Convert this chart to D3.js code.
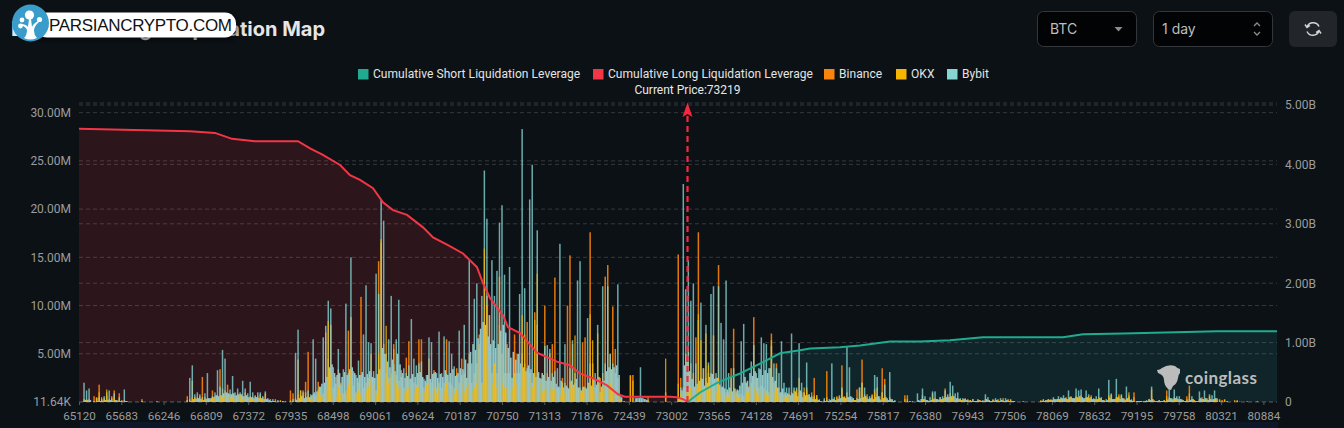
<!DOCTYPE html>
<html><head><meta charset="utf-8">
<script src="https://cdn.jsdelivr.net/npm/d3@7"></script>
<style>html,body{margin:0;padding:0;background:#0c1116;overflow:hidden}svg{display:block}</style>
</head><body><svg id="c" width="1344" height="428"></svg>
<script>
const priceTicks=[65120,65683,66246,66809,67372,67935,68498,69061,69624,70187,70750,71313,71876,72439,73002,73565,74128,74691,75254,75817,76380,76943,77506,78069,78632,79195,79758,80321,80884];
const leftTicks=[0,5,10,15,20,25,30];
const leftLabels=["11.64K","5.00M","10.00M","15.00M","20.00M","25.00M","30.00M"];
const rightTicks=[0,1,2,3,4,5];
const rightLabels=["0","1.00B","2.00B","3.00B","4.00B","5.00B"];
const currentPrice=73219;
const legendNames=["Cumulative Short Liquidation Leverage","Cumulative Long Liquidation Leverage","Binance","OKX","Bybit"];

// liquidation per price bin (millions), one row per 17 bins
const binance=[
[0,0,.3,.2,.3,0,.6,.5,1.8,.3,.4,.6,.3,.6,1.2,.2,.9],
[.2,.2,.1,0,0,0,0,0,.1,0,0,0,0,0,.05,0,0],
[0,0,0,0,0,0,0,0,0,.6,.3,2.2,.5,.4,.6,2.6,.5],
[.4,.3,1.2,.6,.7,3.4,1.4,1.2,1.8,.8,.9,.6,.7,.8,.6,1,.5],
[.6,.5,.7,.6,.8,.5,.9,.3,.1,.1,0,.1,.05,.1,0,0,1.2],
[.9,.3,4.4,.7,1.2,2.1,5.2,.5,.8,.7,2.1,1.5,.9,7.2,4.5,8,1.5],
[2.6,3.4,2,.9,.8,7.4,8.8,1.7,1,2,10.9,1.5,2,2.5,5,2.5,1.2],
[14.6,16.5,6,3,2.5,2.5,6,2.8,2.2,3.3,1.5,4.6,6.3,2.5,2,1.8,6.5],
[6.5,1.5,2,4.5,2,3.3,1.5,2,1.5,2,6.5,2.1,1.8,1.5,3.5,2,4.5],
[3,2.5,5,2,3,4,7,2,8,11,9,3,4,3,13,5,3],
[6,3,2.5,7,5,3,5,4,8.3,3,2,9.3,8,2.5,3,10,3],
[5,6,12.9,1.5,1.5,2.5,2,10,15.2,6,2,1.5,1.5,6.2,6.7,1.5,17.6],
[4,1.5,2,2.5,3,13,14.2,5,9.9,5.5,2.5,.3,0,0,0,2.8,2.8],
[0,0,0,0,0,.5,0,0,0,0,0,0,1,0,0,0,0],
[15.3,2.5,1.5,5,5.5,4,3,6.7,17.6,2.5,3.5,2.5,3,3,6.9,2.5,14.2],
[1.5,1.5,1,1,3.5,7.6,1.2,.8,.8,.6,2,1.6,2,8.8,2.5,1.5,1.7],
[1.5,1.2,1,7.1,2,4,1.5,1,.8,.7,.8,1,.7,.9,2.5,1,1],
[1.5,.8,.5,2.5,.7,.3,.1,.2,3.2,.1,.3,.3,.5,.7,3.8,.6,1],
[.5,.3,.2,1.3,1.5,4.4,.8,.5,.3,.8,1.3,1.5,.6,3.5,2.4,.4,.5],
[.2,.1,0,0,0,.7,.7,.1,0,0,0,.1,.7,.3,.2,.1,.9],
[.4,.3,.5,.3,1.4,.6,.9,.5,.2,.4,.3,.2,.4,.3,.2,.3,.1],
[.1,.2,.1,.3,.2,.1,.3,.2,.2,.1,.4,.1,.3,.1,.1,0,0],
[0,.05,0,0,0,0,0,0,.1,.2,.1,.3,.2,.3,.2,.3,.4],
[.2,.4,.2,.6,.3,.5,.3,.4,.2,.5,.4,.7,.3,.2,.4,.3,.2],
[.1,.5,.7,.3,.4,.8,.6,.4,.3,.7,.2,1,.1,.1,.1,.1,.1],
[.3,1.3,.2,.1,.2,.1,.1,1.2,.4,.2,.5,.4,.2,.3,.1,.6,1.7],
[.3,.2,.1,.3,.5,.2,.4,.6,.2,.3,.4,.3,.2,.3,.1,0,0],
[0,.2,.05,0,0,.05,0,0,0,.05,0,0,0,0,0,0,0]];

const okx=[
[0,0,.1,.3,0,0,.1,.4,1,.5,.2,1.3,.2,.4,.5,.1,.3],
[.1,.1,0,0,0,0,0,0,.3,0,0,0,0,0,.05,0,0],
[0,0,0,0,0,0,0,0,0,.2,.2,.5,.4,.5,.3,.4,.3],
[.3,.2,.5,.4,.3,.6,.5,.6,.7,.4,.5,.3,.9,.6,.3,.4,.3],
[.4,.3,.3,.4,.5,.3,.4,.1,.05,.05,.3,.05,.2,.05,0,0,.2],
[.1,.4,.8,1.2,.7,.5,.6,.3,.4,.5,1.3,.7,.6,1,8.4,3,.8],
[.6,1.6,.9,.8,1.2,1.8,3.4,.8,.9,1.2,.9,.7,1.3,1.6,2.3,1.9,.8],
[5,16.9,2.4,7.9,2,3,5.5,2,1.4,1.5,1,1.2,1.5,1.6,1,1.5,1.6],
[1,1.1,1.7,2,1.1,1.5,.9,1.5,.8,1.3,2,.7,1.4,.8,1.3,.9,2],
[1,1.5,2,1.2,1.5,2,6,2,15.9,10,3.5,2,4,1.5,8,2,1.5],
[1.5,1.2,1.5,3,2,1.5,9,7,3,2.5,1.5,8.5,13.3,2,1,1.3,1.5],
[1.5,1.2,1.4,1,.8,1.8,1,1.5,2,1.5,6.9,1.5,1,1.2,1.5,2,9.1],
[6.4,1,7.1,1,1.5,1.5,2,2,1.5,1,.8,.2,0,0,0,2.7,2.2],
[0,0,0,0,0,.2,0,0,0,0,0,0,4.5,0,0,0,0],
[1.9,.8,.5,1.3,1,1.5,1,1.5,9.1,6.4,1.5,7.1,3.8,1.5,1.5,1,2.5],
[1,.8,.6,.5,1.2,1.5,.6,.4,.5,.4,1,1,1.5,1.6,1,.7,1.1],
[1,.8,.7,6.4,1,1.5,.6,.6,.4,.5,.8,.7,1.2,1.3,1,.8,1.5],
[1.2,.6,1,.7,.7,.2,0,.1,.5,.1,.2,.1,.6,.6,1.3,.5,.5],
[.3,.2,.2,.3,1,2,.5,.8,.4,.7,1,.8,.3,1,.7,.2,.2],
[.1,.1,0,0,0,.3,.3,.05,0,0,.1,.1,.3,.2,.1,.1,.4],
[.2,.2,.3,.2,.6,.5,.4,.7,.2,.2,.3,.2,.3,.2,.2,.1,.1],
[.2,.1,.1,.2,.1,.1,.2,.1,.3,.1,.2,.1,.2,.2,.1,0,0],
[0,.05,0,0,0,0,0,0,.2,.1,.2,.2,.3,.2,.1,.2,.3],
[.3,.5,.3,.5,.4,.6,.4,.7,.3,.4,.6,.5,.4,.3,.5,.4,.2],
[.1,.7,.9,.3,.5,.6,.7,.3,.3,1,.3,.5,.1,.1,.1,.1,.1],
[.2,.6,.1,.1,.1,.1,.2,.6,.5,.2,.3,.2,.1,.2,.1,.3,.9],
[.2,.2,.1,.2,.3,.1,.3,.4,.1,.2,.3,.2,.1,.2,.1,0,0],
[.2,.1,0,0,0,0,0,0,0,0,0,0,0,0,0,0,0]];

const bybit=[
[0,0,2,1.2,1.4,0,.1,.4,.5,.2,.6,1,1.2,.3,.9,.2,.5],
[.1,1.3,.1,0,0,0,0,0,.1,0,0,0,0,0,.05,0,0],
[0,0,0,0,0,0,0,0,0,.2,2.5,3.8,.8,1,.8,.5,.9],
[3,.4,.6,1,3.3,1.6,5.4,4.5,.9,1.3,2.7,1,1.4,1,2.2,1.4,.9],
[2.1,1,.6,1,1,.6,1.1,.4,.3,.3,.1,.2,.1,.1,.1,0,.1],
[.3,5.1,7.5,1.2,1,1,1.2,.8,6.5,4.5,1,1.6,6.7,7.9,10.5,9.7,3.6],
[1.9,5.5,1.8,3.4,10.2,3,15,3.2,2.8,4.3,2.8,7,12.1,6.2,6.1,3.2,13.3],
[11.2,21,18.8,5,6.5,11,3.9,6.5,10.6,2.6,3.5,3,3.8,8.6,4.5,3.8,4],
[4.2,2.4,2.8,6.7,6.2,3,3,7.3,3,6.8,2.9,6.3,5,3.7,2.8,7.4,2.8],
[8,2.5,14.7,4,10.7,12.3,5.5,11,24,19,9,14.7,11,13.6,18.6,20.4,13.2],
[3,14,2.5,3,3,11.2,28.3,11.8,3.5,21,24.6,3,17.8,2.5,3,5.8,5.9],
[5.5,3,3.2,3.5,16.4,2,6,1.5,3.5,6.4,3,12.6,14.6,1.5,1.5,8.7,4],
[1.5,3,8,1,12,4,12,5,4,3,12.2,.6,0,0,0,0,0],
[.4,.4,3.6,.4,.3,.1,0,0,0,0,0,0,0,0,0,0,0],
[.3,1.5,22.6,11.7,14.7,10.5,12.3,4,8.5,10.3,3.5,8,4.1,11.2,12,3,12],
[8.2,6.5,12.6,3,2.5,3.5,1,1.2,6.3,8.1,2,1.5,4.2,5.9,3,3.5,6.7],
[6.1,6,3.5,5.8,4,3.5,3,6.3,2,1.5,1.5,7.1,1.5,1.5,6.1,2,1],
[4.1,.8,.6,.5,.4,.2,0,.4,.2,.3,4,.5,.2,.4,1.5,.5,5.7],
[3.6,.5,.2,.4,1.5,2,1.5,.3,.6,.5,2.8,2.6,.3,1,1.8,.3,3.1],
[.3,.2,0,0,0,0,.1,.1,.1,0,.9,.1,1.4,.6,.2,.5,1.1],
[1.1,.3,.5,.6,1.2,.8,2.1,1.7,.9,1,.4,.4,.3,.2,.2,.3,.1],
[.3,.1,.2,.8,.5,.1,.2,.4,.1,.4,.1,.4,.1,.3,.1,0,0],
[0,.05,0,0,0,0,0,0,.1,.3,.2,.3,.2,.5,.3,.6,.5],
[.7,.3,1.2,.5,.4,1.4,1.2,1.3,.4,1.2,.8,.5,.3,.6,1.4,.5,.2],
[.3,2.3,.8,.3,2.4,.4,.8,.3,1.6,.5,.2,.1,.1,.1,.1,.1,.2],
[.3,1.6,.1,.1,.2,.1,.2,.3,2,.4,1.3,.6,.6,.2,.1,.2,.3],
[.6,.1,.1,1.1,.3,1.2,.2,.8,.7,1.2,.1,0,0,0,0,0,0],
[0,.05,0,0,0,.05,0,0,0,.05,0,0,0,0,0,0,0]];

// the solid low body of Bybit between the spikes, same rows, half a bin along
const bybitBody=[
[0,0,.2,.2,.2,0,0,.1,.1,.1,.2,.2,.2,.1,.2,.1,.1],
[0,.1,0,0,0,0,0,0,0,0,0,0,0,0,0,0,0],
[0,0,0,0,0,0,0,0,0,0,.1,.3,.3,.4,.3,.2,.3],
[.4,.4,.5,.7,.6,.7,.9,1,.9,.8,.9,.7,.8,.8,.6,.7,.5],
[.5,.4,.5,.4,.4,.3,.3,.2,.1,.1,0,0,0,0,0,0,0],
[0,.2,.4,.6,.4,.5,.5,.7,1,1.1,1.6,1.9,2,2.6,3.6,3.9,3],
[2.8,3,2.6,3.1,2.8,3.4,3.6,3,2.5,2.8,3.1,2.6,2.9,3.2,2.6,2.5,2.9],
[3.4,5.6,5,4.2,3.6,4.4,3.2,5,3.9,3,2.5,2.7,2.4,2.9,2.6,3,3.1],
[2.6,2.2,2.8,2.4,2.9,3.1,2.5,2.9,2.6,3.3,2.8,3,3.4,2.7,3,3.5,3.4],
[4.4,4,5.2,6,5.4,6.6,7.6,8.3,8,6.8,6,6.4,5.6,6,7.4,8,7.2],
[5.6,4.6,5.2,4.4,5,4,3.6,3.2,3.8,3.4,3,2.6,3.1,2.4,2.8,2.2,2.6],
[2.2,2.6,1.9,1.6,2.2,1.5,1.7,1.4,2.2,1.8,2.4,1.5,1.2,1.6,1.4,2,1.7],
[2.4,1.8,2.6,1.6,2.2,3.2,3.6,3.4,3.6,3.8,2.8,.5,.1,0,0,0,0],
[.4,.4,.4,.3,.2,0,0,0,0,0,0,0,0,0,0,0,0],
[.5,1.2,3.8,4.2,3.2,2.4,1.6,1.9,2.2,2.4,1.7,2,2.6,2.9,2.4,2.5,1.8],
[1.6,1.4,1.3,1.5,1.1,1.4,1.3,1.7,2,2.6,2.2,3,2.7,3.2,2.5,3.4,2.8],
[3.3,3,3.5,2.6,2.2,1.5,1,1.4,1,.9,.7,.9,1.1,.6,1.2,.5,.7],
[.7,.5,.3,.3,.2,.1,0,.1,.1,.2,.3,.2,.3,.4,.5,.4,.5],
[.6,.4,.2,.3,.4,.5,.6,.3,.4,.3,.5,.6,.2,.4,.5,.2,.3],
[.1,0,0,0,0,0,0,0,0,0,.2,.3,.3,.2,.1,.2,.3],
[.3,.2,.3,.4,.5,.5,.6,.6,.4,.3,.2,.3,.2,.1,.1,.1,.1],
[.2,.1,.1,.3,.2,.1,.1,.2,.1,.2,.1,.2,.1,.1,.1,0,0],
[0,0,0,0,0,0,0,0,.1,.1,.2,.2,.2,.3,.3,.3,.4],
[.4,.3,.5,.4,.4,.5,.6,.5,.4,.5,.4,.3,.3,.3,.4,.2,.1],
[.2,.4,.3,.3,.5,.3,.4,.2,.4,.2,.1,0,.1,.1,0,.1,.1],
[.2,.3,.1,.1,.1,.1,.1,.2,.4,.3,.4,.3,.3,.2,.1,.1,.2],
[.3,.1,.1,.4,.3,.4,.2,.3,.3,.4,0,0,0,0,0,0,0],
[0,0,0,0,0,0,0,0,0,0,0,0,0,0,0,0,0]];

const longPrices=[65120,66597,66930,67156,67463,68035,68195,68354,68594,68727,68860,69033,69166,69299,69486,69699,69832,70031,70231,70417,70497,70590,70763,70830,70990,71216,71482,71655,71788,71961,72148,72294,72387,72986,73079,73173,73226];
const longValues=[4.60,4.56,4.53,4.43,4.39,4.39,4.27,4.17,3.99,3.82,3.74,3.60,3.36,3.23,3.15,2.94,2.77,2.64,2.50,2.27,2.00,1.75,1.46,1.26,1.16,.83,.68,.62,.48,.40,.28,.13,.09,.09,.08,.04,0];
const shortPrices=[73226,73252,73386,73625,73918,74144,74450,74717,74850,75249,75515,75914,76314,76713,77152,78217,78483,79016,80267,81065];
const shortValues=[0,.03,.16,.33,.48,.62,.82,.87,.90,.92,.95,1.02,1.02,1.04,1.09,1.09,1.14,1.155,1.19,1.19];

const C={bg:"#0c1116",short:"#20ab90",long:"#f23645",bin:"#f7840c",okx:"#f7b500",byb:"#85d6d3",txt:"#9c9c9c"};
const svg=d3.select("#c");
svg.append("rect").attr("width",1344).attr("height",428).attr("fill",C.bg);
const FONT="Roboto, sans-serif";
const x=d3.scaleLinear().domain([65120,81065]).range([79,1277]);
const yL=d3.scaleLinear().domain([0,31]).range([402,103]);
const yR=d3.scaleLinear().domain([0,5]).range([402,105]);

svg.append("rect").attr("x",80).attr("y",422).attr("width",1198).attr("height",6).attr("fill","#0d172a");

const area=(xs,ys)=>d3.area().x((d,i)=>x(xs[i])).y0(402).y1((d,i)=>yR(ys[i]))(ys);
svg.append("path").attr("d",area(longPrices,longValues)).attr("fill","#2c151b");
svg.append("path").attr("d",area(shortPrices,shortValues)).attr("fill","#0f2529");

const grid=svg.append("g");
const gridYs=[yL(31),...leftTicks.map(yL),...rightTicks.map(yR)];
grid.selectAll("line").data(gridYs).join("line").attr("x1",79).attr("x2",1277).attr("y1",d=>d).attr("y2",d=>d)
  .attr("stroke","#fff").attr("stroke-opacity",.17).attr("stroke-dasharray","4 3");

const BIN=569.7/17;
const flat=(rows,off)=>rows.flatMap((r,ri)=>r.map((v,j)=>({p:65120+(ri+j/r.length)*569.7+off,v})));
const drawBars=(rows,color,op,off,w)=>svg.append("g").selectAll("rect").data(flat(rows,off).filter(d=>d.v>0)).join("rect")
  .attr("x",d=>x(d.p)-w/2).attr("width",w).attr("y",d=>yL(d.v)).attr("height",d=>402-yL(d.v)).attr("fill",color).attr("fill-opacity",op);
drawBars(binance,C.bin,.9,0,1.5);
drawBars(bybit,C.byb,.78,0,1.5);
drawBars(bybitBody,"#9ccfd2",.94,BIN/2,1.6);
drawBars(okx,C.okx,.8,0,1.3);

const line=(xs,ys)=>d3.line().x((d,i)=>x(xs[i])).y((d,i)=>yR(ys[i]))(ys);
svg.append("path").attr("d",line(shortPrices,shortValues)).attr("fill","none").attr("stroke",C.short).attr("stroke-width",2);
svg.append("path").attr("d",line(longPrices,longValues)).attr("fill","none").attr("stroke",C.long).attr("stroke-width",2);

const axL=d3.axisLeft(yL).tickValues(leftTicks).tickFormat((d,i)=>leftLabels[i]).tickSize(0).tickPadding(8);
const gL=svg.append("g").attr("transform","translate(79,0)").call(axL);
const axR=d3.axisRight(yR).tickValues(rightTicks).tickFormat((d,i)=>rightLabels[i]).tickSize(0).tickPadding(8);
const gR=svg.append("g").attr("transform","translate(1277,0)").call(axR);
const axB=d3.axisBottom(x).tickValues(priceTicks).tickFormat(d3.format("d")).tickSize(3).tickPadding(7);
const gB=svg.append("g").attr("transform","translate(0,402)").call(axB);
[gL,gR,gB].forEach(g=>{g.select(".domain").remove();g.selectAll("text").attr("fill",C.txt).style("font-family",FONT).style("font-size","12px");g.selectAll("line").attr("stroke","#55595c");});
gB.selectAll("text").style("font-size","11.6px");

const mx=x(currentPrice);
svg.append("line").attr("x1",mx).attr("x2",mx).attr("y1",402).attr("y2",114).attr("stroke","#f5283f").attr("stroke-width",2.2).attr("stroke-dasharray","6 4");
svg.append("path").attr("d",d3.line()([[mx,102.5],[mx+5,117],[mx,114],[mx-5,117]])+"Z").attr("fill","#f5283f");
svg.append("text").attr("x",mx).attr("y",94).attr("text-anchor","middle").attr("fill","#e8e8e8").style("font-family",FONT).style("font-size","12px").text("Current Price:"+currentPrice);

const legX=[358,593,824,896,947],legC=[C.short,C.long,C.bin,C.okx,C.byb];
legendNames.forEach((n,i)=>{
  svg.append("rect").attr("x",legX[i]).attr("y",69).attr("width",10.5).attr("height",10.5).attr("fill",legC[i]);
  svg.append("text").attr("x",legX[i]+15).attr("y",78).attr("fill","#e4e4e4").style("font-family",FONT).style("font-size","12px").style("letter-spacing",".05px").text(n);
});

const title=svg.append("text").attr("y",36).attr("fill","#e6e6e6").style("font-family","Inter, sans-serif").style("font-weight",700).style("font-size","20px");
title.append("tspan").attr("x",11).attr("text-anchor","start").text("BTC");
title.append("tspan").attr("x",325).attr("text-anchor","end").text("Exchange Liquidation Map");
const defs=svg.append("defs");
defs.append("filter").attr("id","sh").attr("x","-20%").attr("y","-50%").attr("width","140%").attr("height","220%").append("feGaussianBlur").attr("stdDeviation",3);
svg.append("rect").attr("x",30).attr("y",14).attr("width",208).attr("height",26).attr("rx",12).attr("fill","#000").attr("fill-opacity",.6).attr("filter","url(#sh)");
svg.append("rect").attr("x",36).attr("y",12.5).attr("width",200).attr("height",25).attr("rx",11).attr("fill","#fff");
svg.append("text").attr("x",49).attr("y",31).attr("fill","#111").style("font-family","'Liberation Sans', sans-serif").style("font-size","17px").attr("textLength",183).text("PARSIANCRYPTO.COM");
const logo=svg.append("g");
logo.append("circle").attr("cx",30.5).attr("cy",23).attr("r",18.5).attr("fill","#3a9ccb");
logo.append("path").attr("d","M24 38 Q27 35 27 30 Q26 27 21 25 L22 24 Q27 25 28 27 L29 19 L31 19 L32 27 Q33 24 38 21 L39 22 Q34 26 34 31 Q34 35 37 38 Q30 41 24 38Z").attr("fill","#fff");
[[29.5,15,4.6],[22,20,2.4],[39.5,19.5,2.6],[20.5,26,2.4]].forEach(c=>logo.append("circle").attr("cx",c[0]).attr("cy",c[1]).attr("r",c[2]).attr("fill","#fff"));

const wm=svg.append("g").attr("fill","#bcbcbc");
wm.append("path").attr("d","M1157 370 Q1160 370 1162 368 Q1168 364 1175 366 Q1178 369 1180 369 L1180 373 Q1178 375 1178 378 Q1177 384 1173 386 L1171 390 L1168 389 Q1164 385 1164 380 Q1164 375 1158 373Z");
wm.append("text").attr("x",1185).attr("y",384).style("font-family","Lato, sans-serif").style("font-weight",700).style("font-size","17px").attr("textLength",72).text("coinglass");

const ctl=svg.append("g");
[[1037.5,99],[1153.5,119]].forEach(b=>ctl.append("rect").attr("x",b[0]).attr("y",11.5).attr("width",b[1]).attr("height",35).attr("rx",6).attr("fill","#020305").attr("stroke","#33373b"));
ctl.append("text").attr("x",1050).attr("y",34).attr("fill","#bdbdbd").style("font-family","Inter, sans-serif").style("font-size","14px").text("BTC");
ctl.append("text").attr("x",1162).attr("y",34).attr("fill","#bdbdbd").style("font-family","Inter, sans-serif").style("font-size","14px").text("1 day");
ctl.append("path").attr("d","M1114.5 27 h8 l-4 4.5z").attr("fill","#8d8d8d");
ctl.append("path").attr("d","M1254 26 l3 -3 l3 3 M1254 32 l3 3 l3 -3").attr("fill","none").attr("stroke","#8d8d8d").attr("stroke-width",1.3);
ctl.append("rect").attr("x",1289).attr("y",11).attr("width",48).attr("height",36).attr("rx",6).attr("fill","#22262b");
ctl.append("path").attr("d","M1307 27 A6.5 6.5 0 0 1 1319 26.5 M1319 31 A6.5 6.5 0 0 1 1307 31.5 M1305 24.5 L1307 27.5 L1310 25.5 M1321 33.5 L1319 30.5 L1316 32.5").attr("fill","none").attr("stroke","#d6d6d6").attr("stroke-width",1.4);
</script></body></html>
